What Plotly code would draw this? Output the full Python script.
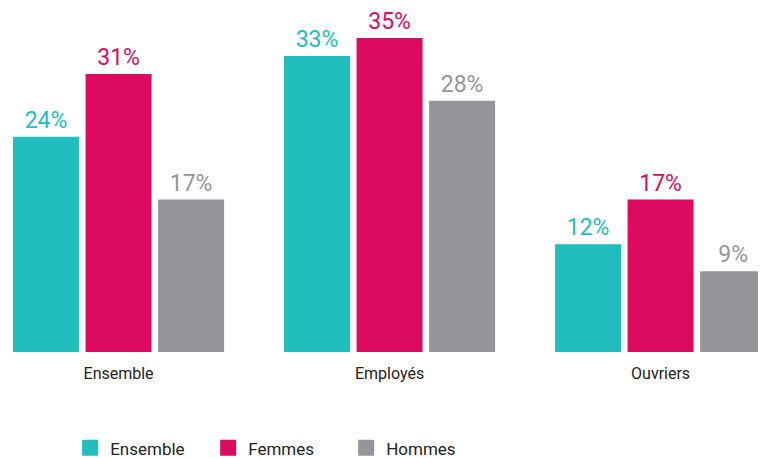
import plotly.graph_objects as go

categories = ["Ensemble", "Employés", "Ouvriers"]
series_names = ["Ensemble", "Femmes", "Hommes"]
ensemble = [24, 33, 12]
femmes = [31, 35, 17]
hommes = [17, 28, 9]

colors = ["#21BEBD", "#DC0B5F", "#959599"]
FONT = "Roboto"

fig = go.Figure()
for name, vals, col in zip(series_names, [ensemble, femmes, hommes], colors):
    fig.add_trace(go.Bar(
        name=name,
        x=categories,
        y=vals,
        marker=dict(color=col, line=dict(width=0)),
        text=[f"{v}%" for v in vals],
        textposition="outside",
        textfont=dict(family=FONT, size=23, color=col),
        cliponaxis=False,
        hoverinfo="skip",
        showlegend=False,
    ))

# legend-only entries, so the squares can be larger than the bar legend glyph
for name, col in zip(series_names, colors):
    fig.add_trace(go.Scatter(
        name=name,
        x=[None],
        y=[None],
        mode="markers",
        marker=dict(symbol="square", size=16, color=col),
        hoverinfo="skip",
    ))

# the page body keeps its 8px margin, so the figure is sized to fit the window
fig.update_layout(
    width=758,
    height=450,
    margin=dict(l=0, r=0, t=0, b=106, autoexpand=False),
    paper_bgcolor="white",
    plot_bgcolor="white",
    barmode="group",
    bargap=0.197,
    bargroupgap=0.09,
    font=dict(family=FONT, size=16, color="#222222"),
    xaxis=dict(
        range=[-0.408, 2.389],
        showgrid=False,
        showline=False,
        zeroline=False,
        ticks="",
        ticklabelstandoff=10,
        tickfont=dict(family=FONT, size=16, color="#222222"),
    ),
    yaxis=dict(
        range=[0, 38.35],
        visible=False,
    ),
    showlegend=True,
    legend=dict(
        orientation="h",
        x=0.082,
        xanchor="left",
        y=-0.28,
        yanchor="middle",
        entrywidth=93,
        font=dict(family=FONT, size=17, color="#222222"),
        itemsizing="trace",
    ),
)

fig.write_html("out.html")
